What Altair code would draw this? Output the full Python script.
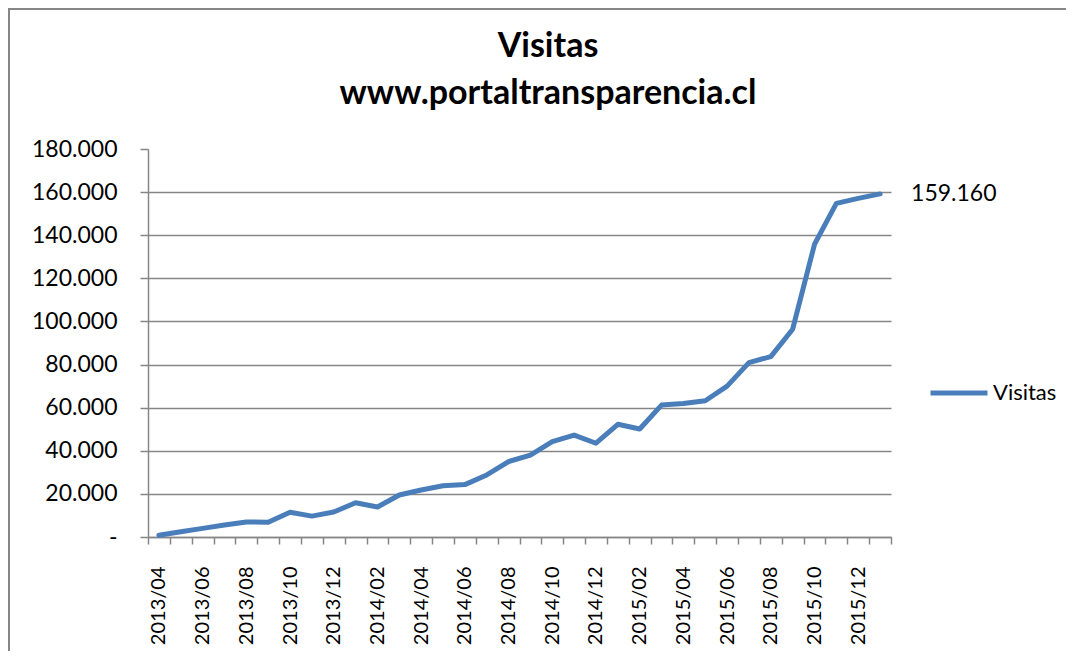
import altair as alt
import pandas as pd

meses = ["2013/04", "2013/05", "2013/06", "2013/07", "2013/08", "2013/09", "2013/10", "2013/11", "2013/12",
         "2014/01", "2014/02", "2014/03", "2014/04", "2014/05", "2014/06", "2014/07", "2014/08", "2014/09",
         "2014/10", "2014/11", "2014/12", "2015/01", "2015/02", "2015/03", "2015/04", "2015/05", "2015/06",
         "2015/07", "2015/08", "2015/09", "2015/10", "2015/11", "2015/12", "2016/01"]
visitas = [800, 2400, 4000, 5600, 7000, 6800, 11500, 9700, 11600,
           15900, 13900, 19500, 21800, 23800, 24300, 28800, 35000, 38000,
           44200, 47300, 43500, 52300, 50100, 61200, 61900, 63200, 70000,
           80900, 83700, 96400, 135800, 154800, 157100, 159160]
serie = "Visitas"
titulo = ["Visitas", "www.portaltransparencia.cl"]
y_ticks = [0, 20000, 40000, 60000, 80000, 100000, 120000, 140000, 160000, 180000]

etiquetas = [""] * (len(visitas) - 1) + [f"{visitas[-1]:,}".replace(",", ".")]
df = pd.DataFrame({"mes": meses, "visitas": visitas, "serie": serie, "etiqueta": etiquetas})

FONT = "Lato"
BLUE = "#4A7EBB"
GRAY = "#868686"

x_scale = alt.Scale(type="band", paddingInner=0, paddingOuter=0)
x_axis = alt.Axis(
    title=None, tickBand="extent", labelAngle=-90, labelAlign="right", labelBaseline="middle",
    labelExpr="toNumber(substring(datum.value, 5, 7)) % 2 == 0 ? datum.value : ''",
    labelFontSize=20, labelPadding=22, tickSize=7, labelOverlap=False,
    domainColor=GRAY, tickColor=GRAY, domainWidth=1.5, tickWidth=1.5, grid=False,
)
y_axis = alt.Axis(
    title=None, values=y_ticks,
    labelExpr="datum.value == 0 ? '-\u00a0\u00a0\u00a0' : replace(format(datum.value, ','), ',', '.')",
    labelFontSize=23, labelPadding=23, tickSize=8,
    domainColor=GRAY, tickColor=GRAY, domainWidth=1.5, tickWidth=1.5,
    grid=True, gridColor=GRAY, gridWidth=1.3,
    gridOpacity={"condition": {"test": "datum.value >= 180000", "value": 0}, "value": 1},
)

x_enc = alt.X("mes:O", sort=meses, bandPosition=0.5, scale=x_scale, axis=x_axis)
y_enc = alt.Y("visitas:Q", scale=alt.Scale(domain=[0, 180000], nice=False), axis=y_axis)

line = alt.Chart(df).mark_line(strokeWidth=5, strokeJoin="round", strokeCap="round").encode(
    x=x_enc, y=y_enc,
    color=alt.Color("serie:N", scale=alt.Scale(range=[BLUE]), legend=alt.Legend(
        title=None, orient="none", legendX=780, legendY=213, symbolType="stroke",
        symbolSize=3249, symbolStrokeWidth=5, labelFontSize=22, labelFont=FONT,
        labelOffset=3, labelColor="black")),
)

ann = alt.Chart(df).transform_filter(alt.datum.etiqueta != "").mark_text(
    align="left", baseline="middle", dx=31, fontSize=23, font=FONT, color="black"
).encode(x=alt.X("mes:O", sort=meses, bandPosition=0.5), y="visitas:Q", text="etiqueta:N")

borde = pd.DataFrame({"k": [0]})
left_border = alt.Chart(borde).mark_rule(color=GRAY, strokeWidth=2).encode(
    x=alt.value(-139), y=alt.value(-141), y2=alt.value(520))
top_border = alt.Chart(borde).mark_rule(color=GRAY, strokeWidth=2).encode(
    x=alt.value(-140), x2=alt.value(940), y=alt.value(-140))

title1 = alt.Chart(pd.DataFrame({"t": [titulo[0]]})).mark_text(
    fontSize=34, font=FONT, fontWeight="bold", color="black", align="center", baseline="middle"
).encode(x=alt.value(400), y=alt.value(-102), text="t:N")
title2 = alt.Chart(pd.DataFrame({"t": [titulo[1]]})).mark_text(
    fontSize=34, font=FONT, fontWeight="bold", color="black", align="center", baseline="middle"
).encode(x=alt.value(400), y=alt.value(-55), text="t:N")

chart = alt.layer(line, ann, left_border, top_border, title1, title2).properties(
    width=743, height=388,
    autosize="none",
    padding={"left": 140, "top": 141, "right": 175, "bottom": 114},
).configure_view(stroke=None).configure_axis(labelFont=FONT, labelColor="black")

chart.save("out.html", embed_options={"renderer": "svg", "actions": False})
